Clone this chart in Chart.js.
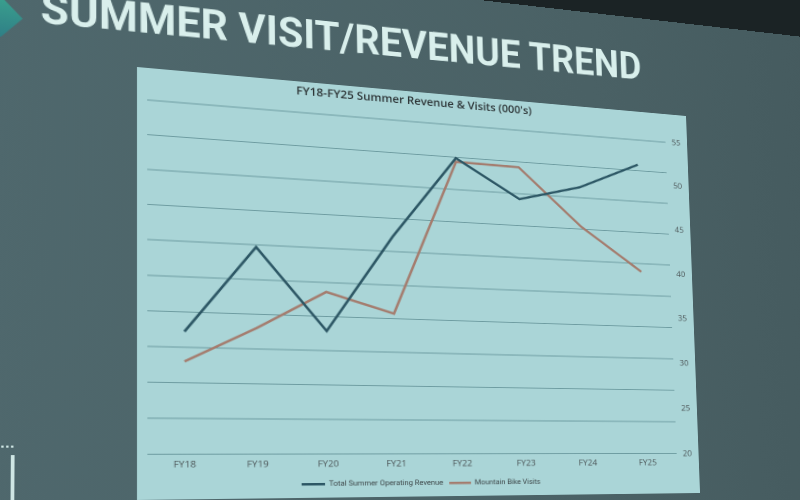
<!DOCTYPE html>
<html>
<head>
<meta charset="utf-8">
<script src="https://cdn.jsdelivr.net/npm/chart.js@4/dist/chart.umd.min.js"></script>
<style>
  html, body { margin: 0; padding: 0; }
  body { width: 800px; height: 500px; overflow: hidden; background: #1b2325; position: relative; }
  #slide {
    position: absolute; left: 0; top: 0;
    width: 1000px; height: 720px;
    transform-origin: 0 0;
    background: linear-gradient(90deg, #4f686d 0%, #4a6165 60%, #43585c 100%);
  }
  #heading {
    position: absolute; left: 0; top: 0;
    font-family: Roboto, sans-serif; font-weight: 700;
    font-size: 44px; line-height: 44px; color: #d9efec; white-space: nowrap;
    transform-origin: 0 37px;
  }
  #corner {
    position: absolute; width: 40px; height: 40px;
    background: linear-gradient(180deg, #3aa08e, #2f7f86);
    clip-path: polygon(0 0, 55% 0, 100% 50%, 55% 100%, 0 100%);
  }
  #badge {
    position: absolute; width: 20px; height: 50px;
    border: 3px solid #cfe6e4; border-radius: 0 0 9px 9px; border-top: none;
  }
  #dots {
    position: absolute; width: 22px; height: 0;
    border-top: 2px dotted #cfe6e4;
  }
  #panel {
    position: absolute; left: 150px; top: 110px;
    width: 560px; height: 433px; background: #aad5d7;
  }
</style>
</head>
<body>
<div id="slide">
  <div id="corner"></div>
  <div id="heading">SUMMER VISIT/REVENUE TREND</div>
  <div id="dots"></div>
  <div id="badge"></div>
  <div id="panel"><canvas id="chart" width="560" height="433"></canvas></div>
</div>
<script>
// data
var labels = ["FY18", "FY19", "FY20", "FY21", "FY22", "FY23", "FY24", "FY25"];
// revenue sits on a hidden left axis (no labels shown in the slide)
var revenue = [1720, 2970, 1785, 3225, 4485, 3915, 4165, 4595];
var bikeVisits = [29.1, 32.6, 36.5, 34.5, 51.0, 50.9, 44.8, 40.1];
var visitMin = 20, visitMax = 55, visitStep = 5;
var revenueMin = 0, revenueMax = 5000, revenueStep = 500;

// the slide is photographed at an angle: map the flat panel onto the photo's quad
function solve(A, b) {
    var n = b.length;
    for (var i = 0; i < n; i++) {
        var p = i;
        for (var r = i + 1; r < n; r++) if (Math.abs(A[r][i]) > Math.abs(A[p][i])) p = r;
        var t = A[i]; A[i] = A[p]; A[p] = t;
        var tb = b[i]; b[i] = b[p]; b[p] = tb;
        for (var r = i + 1; r < n; r++) {
            var f = A[r][i] / A[i][i];
            for (var c = i; c < n; c++) A[r][c] -= f * A[i][c];
            b[r] -= f * b[i];
        }
    }
    var x = new Array(n);
    for (var i = n - 1; i >= 0; i--) {
        var s = b[i];
        for (var c = i + 1; c < n; c++) s -= A[i][c] * x[c];
        x[i] = s / A[i][i];
    }
    return x;
}
function homography(src, dst) {
    var A = [], B = [];
    for (var i = 0; i < 4; i++) {
        var x = src[i][0], y = src[i][1], u = dst[i][0], v = dst[i][1];
        A.push([x, y, 1, 0, 0, 0, -x * u, -y * u]); B.push(u);
        A.push([0, 0, 0, x, y, 1, -x * v, -y * v]); B.push(v);
    }
    var h = solve(A, B);
    return [[h[0], h[1], h[2]], [h[3], h[4], h[5]], [h[6], h[7], 1]];
}
function invert3(m) {
    var a = m[0][0], b = m[0][1], c = m[0][2], d = m[1][0], e = m[1][1], f = m[1][2], g = m[2][0], h = m[2][1], k = m[2][2];
    var A = e * k - f * h, B = -(d * k - f * g), C = d * h - e * g;
    var det = a * A + b * B + c * C;
    return [
        [A / det, -(b * k - c * h) / det, (b * f - c * e) / det],
        [B / det, (a * k - c * g) / det, -(a * f - c * d) / det],
        [C / det, -(a * h - b * g) / det, (a * e - b * d) / det]
    ];
}
function apply(m, x, y) {
    var w = m[2][0] * x + m[2][1] * y + m[2][2];
    return [(m[0][0] * x + m[0][1] * y + m[0][2]) / w, (m[1][0] * x + m[1][1] * y + m[1][2]) / w];
}

var src = [[150, 110], [710, 110], [710, 543], [150, 543]];
var dst = [[137, 67], [686, 116], [700, 493], [137, 500]];
var H = homography(src, dst);
var Hi = invert3(H);
document.getElementById('slide').style.transform = 'matrix3d(' +
    [H[0][0], H[1][0], 0, H[2][0], H[0][1], H[1][1], 0, H[2][1], 0, 0, 1, 0, H[0][2], H[1][2], 0, 1].join(',') + ')';

// slide heading: baseline runs from (40,23) to (641,80) in the photo
var heading = document.getElementById('heading');
var p1 = apply(Hi, 40, 23), p2 = apply(Hi, 641, 80);
var len = Math.hypot(p2[0] - p1[0], p2[1] - p1[1]);
var ang = Math.atan2(p2[1] - p1[1], p2[0] - p1[0]);
heading.style.left = p1[0] + 'px';
heading.style.top = (p1[1] - 37) + 'px';
heading.style.transform = 'rotate(' + ang + 'rad) scaleX(' + (len / heading.offsetWidth) + ')';

function place(id, x, y) {
    var p = apply(Hi, x, y);
    var el = document.getElementById(id);
    el.style.left = p[0] + 'px';
    el.style.top = p[1] + 'px';
}
place('corner', -25, -6);
place('dots', -14, 446);
place('badge', -18, 455);

// in the slide the title and legend sit a little left of the canvas centre
var shiftCaptions = {
    id: 'shiftCaptions',
    afterLayout: function (c) {
        var d = -18;
        c.titleBlock.left += d; c.titleBlock.right += d;
        c.legend.left += d; c.legend.right += d;
    }
};

var ctx = document.getElementById('chart').getContext('2d');
var chart = new Chart(ctx, {
    type: 'line',
    data: {
        labels: labels,
        datasets: [
            {
                label: "Total Summer Operating Revenue",
                data: revenue,
                yAxisID: 'y',
                borderColor: '#2c5664',
                backgroundColor: '#2c5664',
                borderWidth: 2.5,
                pointRadius: 0,
                fill: false
            },
            {
                label: "Mountain Bike Visits",
                data: bikeVisits,
                yAxisID: 'y1',
                borderColor: '#a47c6e',
                backgroundColor: '#a47c6e',
                borderWidth: 2.5,
                pointRadius: 0,
                fill: false
            }
        ]
    },
    plugins: [shiftCaptions],
    options: {
        responsive: false,
        animation: false,
        devicePixelRatio: 2,
        layout: { padding: { left: 9, right: 0, top: 4, bottom: 0 } },
        plugins: {
            title: {
                display: true,
                text: "FY18-FY25 Summer Revenue & Visits (000's)",
                color: '#2c3436',
                font: { family: 'Open Sans', size: 11.5, weight: '600' },
                padding: { top: 0, bottom: 15 }
            },
            legend: {
                position: 'bottom',
                labels: {
                    usePointStyle: true,
                    pointStyle: 'line',
                    pointStyleWidth: 22,
                    color: '#3c4547',
                    font: { family: 'Roboto', size: 7.5 },
                    padding: 6
                }
            },
            tooltip: { enabled: false }
        },
        scales: {
            x: {
                offset: true,
                grid: { display: false, drawTicks: false },
                border: { display: false },
                ticks: { color: '#4a5355', font: { family: 'Open Sans', size: 9 }, padding: 5 }
            },
            y: {
                position: 'left',
                min: revenueMin,
                max: revenueMax,
                afterFit: function (scale) { scale.width = 0; },
                ticks: { stepSize: revenueStep, display: false },
                grid: { color: 'rgba(60,110,116,0.55)', lineWidth: 1, drawTicks: false },
                border: { display: false }
            },
            y1: {
                position: 'right',
                min: visitMin,
                max: visitMax,
                afterFit: function (scale) { scale.width = 25; },
                ticks: { stepSize: visitStep, color: '#4a5355', font: { family: 'Open Sans', size: 9 }, padding: 7 },
                grid: { display: false, drawTicks: false },
                border: { display: false }
            }
        }
    }
});
</script>
</body>
</html>
